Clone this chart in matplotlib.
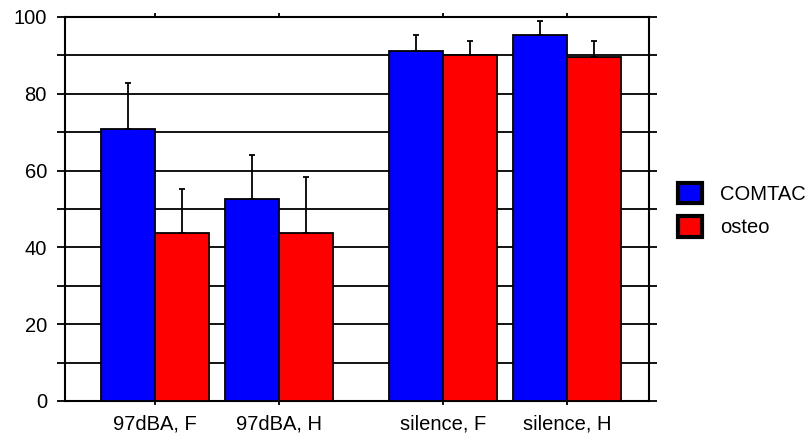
import numpy as np
import matplotlib
matplotlib.use("Agg")
import matplotlib.pyplot as plt
from matplotlib.patches import Patch


categories = ["97dBA, F", "97dBA, H", "silence, F", "silence, H"]
positions = [0.0, 1.0, 2.323, 3.323]
comtac = [70.9, 52.5, 91.1, 95.4]
comtac_err = [12.0, 11.6, 4.3, 3.6]
osteo = [43.7, 43.7, 90.0, 89.7]
osteo_err = [11.5, 14.6, 3.8, 4.0]


plt.rcParams['font.family'] = ['Liberation Sans', 'DejaVu Sans']
plt.rcParams['font.size'] = 14.5

fig = plt.figure( figsize=(8.11, 4.42), dpi=100 )
ax = fig.add_axes( [65/811, 41/442, 584/811, 384/442] )

w = 0.435
pos = np.array( positions )
err_kw = dict( ecolor="black", elinewidth=1.3, capsize=2.5, capthick=1.3 )
ax.bar( pos - w/2, comtac, w, color="#0000ff", edgecolor="black", linewidth=1.3,
        yerr=[np.zeros(len(comtac)), comtac_err], error_kw=err_kw, zorder=3 )
ax.bar( pos + w/2, osteo, w, color="#ff0000", edgecolor="black", linewidth=1.3,
        yerr=[np.zeros(len(osteo)), osteo_err], error_kw=err_kw, zorder=3 )

ax.set_xlim( -0.726, 3.984 )
ax.set_ylim( 0, 100 )

ax.set_yticks( np.arange(0, 101, 20) )
ax.set_yticks( np.arange(10, 100, 20), minor=True )
ax.set_xticks( pos )
ax.set_xticklabels( categories )

ax.yaxis.grid( True, which="both", color="black", linewidth=1.3 )
ax.set_axisbelow( True )

ax.tick_params( axis="y", which="both", direction="out", length=6, width=1.3,
                left=True, right=True, pad=7 )
ax.tick_params( axis="x", direction="out", length=3, width=1.3,
                top=True, bottom=True, pad=7 )
for s in ax.spines.values():
    s.set_linewidth( 1.5 )

handles = [ Patch( facecolor="#0000ff", edgecolor="black", linewidth=3 ),
            Patch( facecolor="#ff0000", edgecolor="black", linewidth=3 ) ]
fig.legend( handles, ["COMTAC", "osteo"], loc="center left",
            bbox_to_anchor=(678/811, 1 - 210/442), frameon=False,
            borderpad=0, borderaxespad=0, handlelength=1.2, handleheight=1.2,
            handletextpad=0.9, labelspacing=0.6 )

fig.savefig( "out.png", dpi=100 )
